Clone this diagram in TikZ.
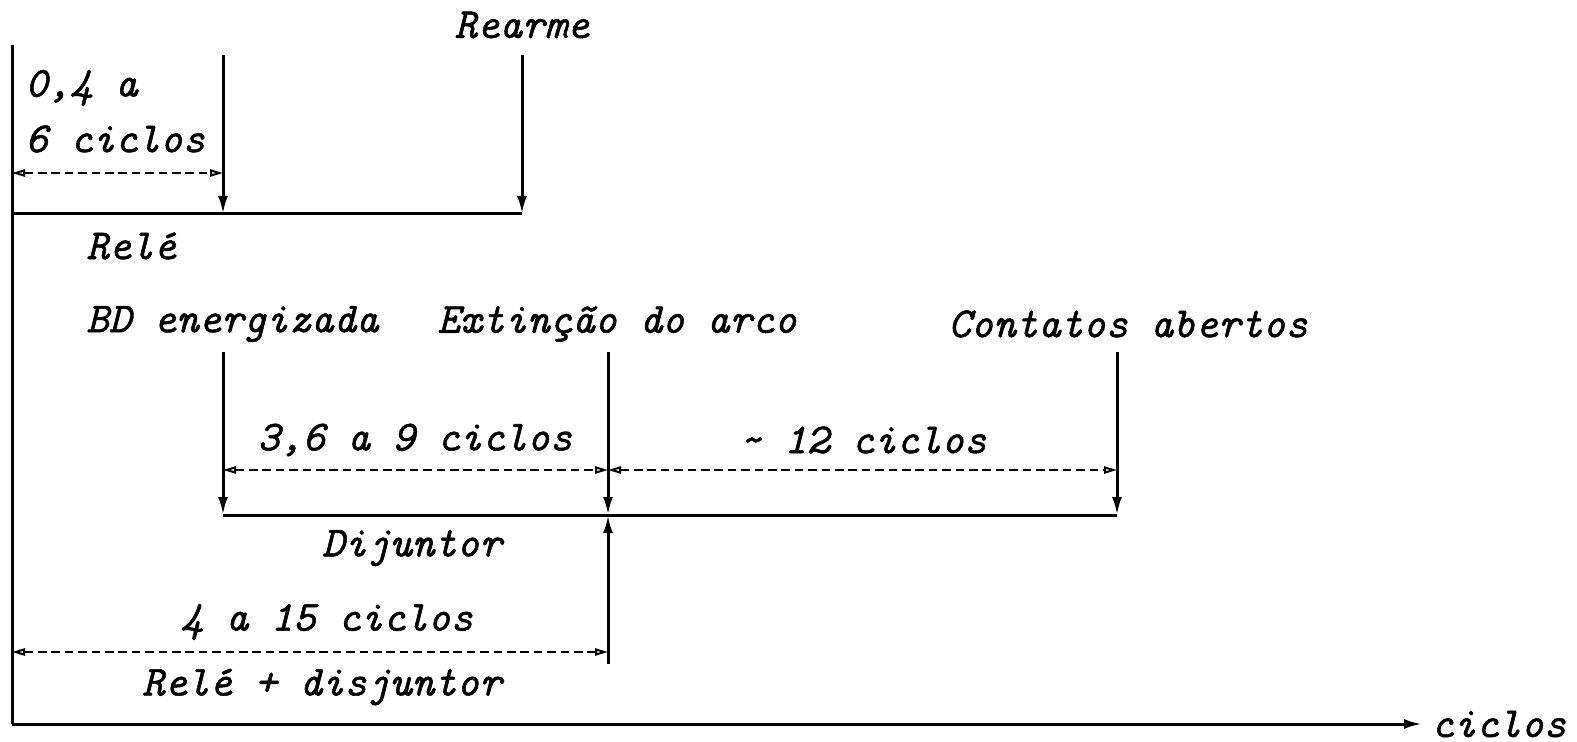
\documentclass[tikz,border=0pt]{standalone}
\usepackage{fontspec}
\newfontfamily\cour{lmmono10-italic}[Extension=.otf, FakeBold=1.2]
\usetikzlibrary{arrows.meta}

\begin{document}
\begin{tikzpicture}[x=0.5pt,y=-0.5pt,
  txt/.style={font=\cour\fontsize{21.4}{24}\selectfont, inner sep=0},
  evt/.style={line width=1.5pt, -{Latex[length=9pt,width=5pt]}},
  span/.style={line width=1pt, dash pattern=on 4.3pt off 2.4pt,
    {Triangle[open,length=6.5pt,width=3.6pt]}-{Triangle[open,length=6.5pt,width=3.6pt]}}]
\useasboundingbox (0,0) rectangle (1577,742);
\coordinate (O) at (12,724);
\coordinate (top) at (12,45);
\coordinate (end) at (1422,724);
% eixos
\draw[line width=1.5pt] (top)--(O);
\draw[evt] (O)--(end);
\node[txt, anchor=west] (ciclos) at (1431,724) {ciclos};
% rele
\coordinate (r0) at (12,214);
\coordinate (r1) at (223,214);
\coordinate (r2) at (522,214);
\coordinate (r1t) at (223,55);
\coordinate (r2t) at (522,55);
\draw[line width=1.5pt] (r0)--(r2);
\draw[evt] (r1t)--(r1);
\draw[evt] (r2t)--(r2);
\node[txt] (rearme) at (522,25) {Rearme};
\node[txt, anchor=west] (t04) at (25,88) {0,4 a};
\node[txt, anchor=west] (t6) at (25,139) {6 ciclos};
\draw[span] (12,173)--(223,173);
\node[txt, anchor=west] (rele) at (86,246) {Relé};
% disjuntor
\node[txt, anchor=west] (bd) at (86,324) {BD energizada};
\node[txt, anchor=west] (ext) at (437,324) {Extinção do arco};
\node[txt, anchor=west] (cont) at (948,324) {Contatos abertos};
\foreach \x [count=\i] in {223,608,1117} {
  \coordinate (d\i) at (\x,515);
  \coordinate (d\i t) at (\x,352);
  \draw[evt] (d\i t)--(d\i);
}
\draw[line width=1.5pt] (d1)--(d3);
\draw[span] (223,470)--(608,470);
\draw[span] (608,470)--(1117,470);
\node[txt] (c36) at (415,440) {3,6 a 9 ciclos};
\node[txt] (c12) at (863,440) {\textasciitilde{} 12 ciclos};
\node[txt] (dij) at (412,548) {Dijuntor};
% rele + disjuntor
\coordinate (up) at (608,664);
\draw[evt] (up)--(d2);
\draw[span] (12,652)--(608,652);
\node[txt] (c415) at (327,622) {4 a 15 ciclos};
\node[txt] (rd) at (322,687) {Relé + disjuntor};
\end{tikzpicture}
\end{document}
